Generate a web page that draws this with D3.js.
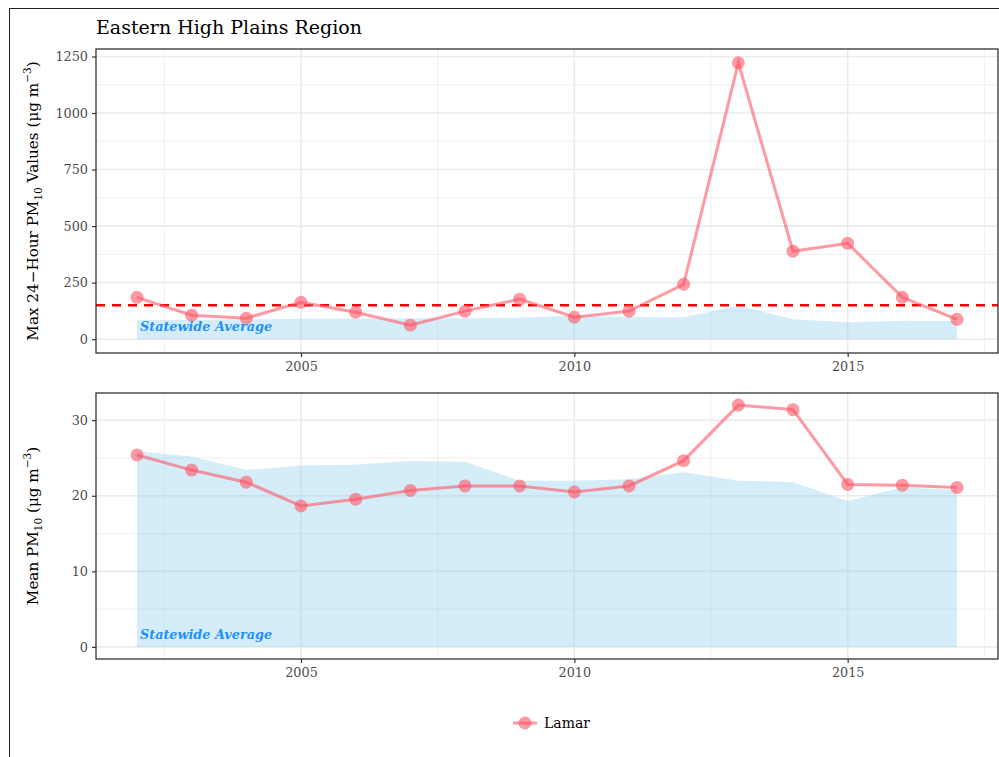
<!DOCTYPE html>
<html><head><meta charset="utf-8">
<script src="https://cdn.jsdelivr.net/npm/d3@7"></script>
<style>body{margin:0;background:#fff}svg{display:block}text{font-family:"DejaVu Serif",serif}</style>
</head><body><svg id="c" width="999" height="757"></svg>
<script>
const years = [2002,2003,2004,2005,2006,2007,2008,2009,2010,2011,2012,2013,2014,2015,2016,2017];
const lamarMax = [185,106,93,163,119,62,124,177,97,124,243,1222,389,424,185,88];
const stateMax = [84,86,88,90,92,93,93,95,105,98,97,148,88,75,82,80];
const lamarMean = [25.4,23.4,21.8,18.65,19.55,20.7,21.3,21.3,20.5,21.3,24.65,32.0,31.4,21.5,21.4,21.1];
const stateMean = [25.9,25.2,23.4,24.0,24.1,24.6,24.5,22.0,22.0,22.2,23.1,22.0,21.8,19.3,21.1,20.8];
const standard = 150;
const xTicks = [2005,2010,2015];
const yTicksTop = [0,250,500,750,1000,1250];
const yTicksBottom = [0,10,20,30];
const seriesName = "Lamar";
const title = "Eastern High Plains Region";

const svg = d3.select("#c");
const lineCol = "#ff5566";
const areaCol = "#87ceeb";

svg.append("rect").attr("x",9.5).attr("y",8.5).attr("width",1200).attr("height",1000)
  .attr("fill","none").attr("stroke","#222").attr("stroke-width",1);

svg.append("text").attr("x",96).attr("y",34).attr("font-size",19).attr("fill","#000").text(title);

const x = d3.scaleLinear().domain([2001.25, 2017.75]).range([96, 998]);

function panel(top, bottom, lamar, state, yTicks, hline, labelParts) {
  const all = lamar.concat(state).concat([0]);
  const lo = d3.min(all), hi = d3.max(all), pad = (hi-lo)*0.05;
  const y = d3.scaleLinear().domain([lo-pad, hi+pad]).range([bottom, top]);
  const g = svg.append("g");
  const xMinor = [2002.5,2007.5,2012.5,2017.5];
  const step = yTicks[1]-yTicks[0];
  const yMinor = yTicks.map(v=>v+step/2).filter(v=>v<y.domain()[1]);
  g.selectAll(".gxm").data(xMinor).join("line").attr("x1",d=>x(d)).attr("x2",d=>x(d))
    .attr("y1",top).attr("y2",bottom).attr("stroke","#ebebeb").attr("stroke-width",0.8);
  g.selectAll(".gym").data(yMinor).join("line").attr("y1",d=>y(d)).attr("y2",d=>y(d))
    .attr("x1",96).attr("x2",998).attr("stroke","#ebebeb").attr("stroke-width",0.8);
  g.selectAll(".gx").data(xTicks).join("line").attr("x1",d=>x(d)).attr("x2",d=>x(d))
    .attr("y1",top).attr("y2",bottom).attr("stroke","#ebebeb").attr("stroke-width",1.6);
  g.selectAll(".gy").data(yTicks).join("line").attr("y1",d=>y(d)).attr("y2",d=>y(d))
    .attr("x1",96).attr("x2",998).attr("stroke","#ebebeb").attr("stroke-width",1.6);
  const area = d3.area().x((d,i)=>x(years[i])).y0(y(0)).y1(d=>y(d));
  g.append("path").attr("d",area(state)).attr("fill",areaCol).attr("fill-opacity",0.36);
  if (hline!=null) {
    g.append("line").attr("x1",96).attr("x2",998).attr("y1",y(hline)).attr("y2",y(hline))
      .attr("stroke","#ff0000").attr("stroke-width",2.6).attr("stroke-dasharray","9,7");
  }
  const line = d3.line().x((d,i)=>x(years[i])).y(d=>y(d));
  g.append("path").attr("d",line(lamar)).attr("fill","none").attr("stroke",lineCol)
    .attr("stroke-width",3).attr("stroke-opacity",0.6);
  g.selectAll(".pt").data(lamar).join("circle").attr("cx",(d,i)=>x(years[i])).attr("cy",d=>y(d))
    .attr("r",6.5).attr("fill",lineCol).attr("fill-opacity",0.6);
  g.append("text").attr("x",140).attr("y",y(0)-8).attr("font-size",12.8).attr("font-weight","bold")
    .attr("font-style","italic").attr("fill","#1e90ff").text("Statewide Average");
  g.append("rect").attr("x",96).attr("y",top).attr("width",902).attr("height",bottom-top)
    .attr("fill","none").attr("stroke","#333").attr("stroke-width",1.3);
  const ya = d3.axisLeft(y).tickValues(yTicks).tickSize(4).tickPadding(4).tickFormat(d3.format("d"));
  const yg = g.append("g").attr("transform","translate(96,0)").call(ya);
  const xa = d3.axisBottom(x).tickValues(xTicks).tickSize(4).tickPadding(5).tickFormat(d3.format("d"));
  const xg = g.append("g").attr("transform",`translate(0,${bottom})`).call(xa);
  [yg,xg].forEach(a=>{
    a.select(".domain").remove();
    a.selectAll("line").attr("stroke","#333").attr("stroke-width",1.2);
    a.selectAll("text").attr("fill","#4d4d4d").attr("font-size",12.8).attr("font-family","DejaVu Serif");
  });
  const t = svg.append("text").attr("transform",`translate(38,${(top+bottom)/2}) rotate(-90)`)
    .attr("text-anchor","middle").attr("font-size",15.2).attr("fill","#000");
  labelParts.forEach(p=>{
    const ts = t.append("tspan").text(p.t);
    if (p.sub) ts.attr("font-size",10.5).attr("dy",4);
    if (p.sup) ts.attr("font-size",10.5).attr("dy",-7);
    if (p.back) ts.attr("dy",p.back);
  });
}

panel(49, 353, lamarMax, stateMax, yTicksTop, standard, [
  {t:"Max 24\u2212Hour PM"},{t:"10",sub:true},{t:" Values (\u03bcg m",back:-4},{t:"\u22123",sup:true},{t:")",back:7}
]);
panel(393, 659, lamarMean, stateMean, yTicksBottom, null, [
  {t:"Mean PM"},{t:"10",sub:true},{t:" (\u03bcg m",back:-4},{t:"\u22123",sup:true},{t:")",back:7}
]);

const lg = svg.append("g");
lg.append("line").attr("x1",513).attr("x2",537).attr("y1",723).attr("y2",723)
  .attr("stroke",lineCol).attr("stroke-width",3).attr("stroke-opacity",0.6);
lg.append("circle").attr("cx",525).attr("cy",723).attr("r",6.5).attr("fill",lineCol).attr("fill-opacity",0.6);
lg.append("text").attr("x",544).attr("y",728).attr("font-size",14).attr("fill","#000").text(seriesName);
</script></body></html>
